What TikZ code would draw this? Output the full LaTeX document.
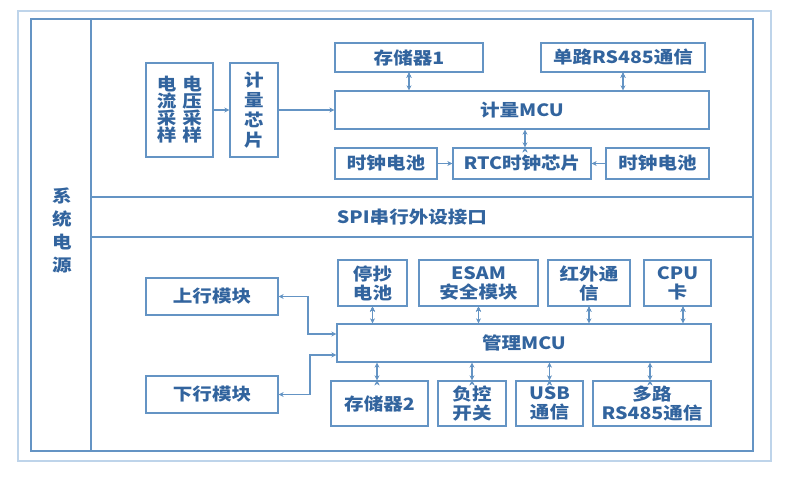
\documentclass[tikz,border=0pt]{standalone}
\usepackage{fontspec}
\usepackage{tikz}
\usetikzlibrary{shapes,arrows.meta}

\newfontfamily\cjk[FakeStretch=1.15]{Noto Sans CJK SC}
\definecolor{linec}{RGB}{100,148,196}
\definecolor{framec}{RGB}{190,212,234}
\definecolor{textc}{RGB}{50,100,158}
\newcommand\tightlines{\lineskiplimit -20pt\relax}

\begin{document}
\begin{tikzpicture}[x=1pt,y=-1pt,
	blk/.style={rectangle,draw=linec,line width=1.3pt,inner sep=0pt,align=center,
		text=textc,font=\cjk\bfseries\fontsize{17}{19}\selectfont},
	lbl/.style={text=textc,align=center,font=\cjk\bfseries\fontsize{17}{19}\selectfont},
	tip/.style={line width=1.3pt,draw=linec,#1},
	tip/.default={-{Stealth[length=5pt,width=5pt]}},
	both/.style={tip={{Stealth[length=5pt,width=5pt]}-{Stealth[length=5pt,width=5pt]}}}]

	\useasboundingbox (0,0) rectangle (803,481);

	% frames
	\draw[framec,line width=1.2pt] (18,11) rectangle (771,461);
	\draw[linec,line width=1.3pt] (31,19) rectangle (753,451);
	\draw[linec,line width=1.3pt] (91,19) -- (91,451);
	\draw[linec,line width=1.3pt] (91,197) -- (753,197);
	\draw[linec,line width=1.3pt] (91,237) -- (753,237);

	\node[lbl,font=\cjk\bfseries\fontsize{17}{23}\selectfont] (pwr) at (62,230) {系\\统\\电\\源};
	\node[lbl] (spi) at (412,217) {SPI串行外设接口};

	% metering part
	\node[blk,minimum width=67pt,minimum height=94pt,
		font=\cjk\bfseries\fontsize{17}{17}\selectfont\tightlines] (smp) at (179.5,110)
		{电\hspace{6pt}电\\流\hspace{6pt}压\\采\hspace{6pt}采\\样\hspace{6pt}样};
	\node[blk,minimum width=48pt,minimum height=94pt,font=\cjk\bfseries\fontsize{17}{20}\selectfont] (chip) at (254,110) {计\\量\\芯\\片};
	\node[blk,minimum width=148pt,minimum height=29pt] (mem1) at (409,57.5) {存储器1};
	\node[blk,minimum width=164pt,minimum height=29pt] (rs1) at (623,57.5) {单路RS485通信};
	\node[blk,minimum width=374pt,minimum height=38pt] (mcu1) at (522,110) {计量MCU};
	\node[blk,minimum width=102pt,minimum height=31pt] (batl) at (386,163.5) {时钟电池};
	\node[blk,minimum width=138pt,minimum height=31pt] (rtc) at (522,163.5) {RTC时钟芯片};
	\node[blk,minimum width=103pt,minimum height=31pt] (batr) at (657.5,163.5) {时钟电池};

	\path[tip] (smp) edge (chip);
	\path[tip] (chip) edge (mcu1.west |- chip);
	\path[both] (mem1.south) edge (mem1.south |- mcu1.north);
	\path[both] (rs1.south) edge (rs1.south |- mcu1.north);
	\path[both] ([xshift=3pt]rtc.north) edge ([xshift=3pt]rtc.north |- mcu1.south);
	\path[tip] (batl) edge (rtc);
	\path[tip] (batr) edge (rtc);

	% management part
	\node[blk,minimum width=132pt,minimum height=37pt] (up) at (212,296.5) {上行模块};
	\node[blk,minimum width=132pt,minimum height=37pt] (down) at (212,394.5) {下行模块};
	\node[blk,minimum width=374pt,minimum height=38pt] (mcu2) at (524,343) {管理MCU};
	\node[blk,minimum width=69pt,minimum height=46pt] (stop) at (372.5,283) {停抄\\电池};
	\node[blk,minimum width=119pt,minimum height=46pt] (esam) at (478.5,283) {ESAM\\安全模块};
	\node[blk,minimum width=82pt,minimum height=46pt] (ir) at (589,283) {红外通\\信};
	\node[blk,minimum width=67pt,minimum height=46pt] (cpu) at (677.5,283) {CPU\\卡};
	\node[blk,minimum width=97pt,minimum height=45pt] (mem2) at (379.5,403.5) {存储器2};
	\node[blk,minimum width=68pt,minimum height=45pt] (load) at (472,403.5) {负控\\开关};
	\node[blk,minimum width=67pt,minimum height=45pt] (usb) at (549.5,403.5) {USB\\通信};
	\node[blk,minimum width=118pt,minimum height=45pt] (rs2) at (652,403.5) {多路\\RS485通信};

	\path[both] (stop.south) edge (stop.south |- mcu2.north);
	\path[both] (esam.south) edge (esam.south |- mcu2.north);
	\path[both] (ir.south) edge (ir.south |- mcu2.north);
	\path[both] ([xshift=5.5pt]cpu.south) edge ([xshift=5.5pt]cpu.south |- mcu2.north);
	\path[both] ([xshift=-2.5pt]mem2.north) edge ([xshift=-2.5pt]mem2.north |- mcu2.south);
	\path[both] (load.north) edge (load.north |- mcu2.south);
	\path[both] (usb.north) edge (usb.north |- mcu2.south);
	\path[both] ([xshift=-2pt]rs2.north) edge ([xshift=-2pt]rs2.north |- mcu2.south);

	\draw[both] (up.east) -- (308,296.5) |- ([yshift=9pt]mcu2.west);
	\draw[both] (down.east) -- (310,394.5) |- ([yshift=-12pt]mcu2.west);

\end{tikzpicture}
\end{document}
